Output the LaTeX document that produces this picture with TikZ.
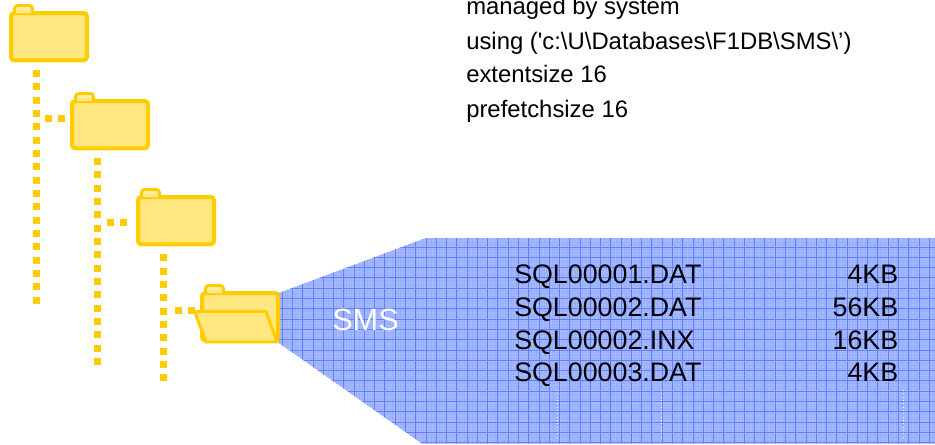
\documentclass[tikz,border=0pt]{standalone}
\usepackage{fontspec}
\setmainfont{Liberation Sans}
\definecolor{folderline}{HTML}{FFCC00}
\definecolor{folderfill}{HTML}{FFE680}
\definecolor{gridfill}{HTML}{A8BBFF}
\definecolor{gridline}{HTML}{5F80FF}
\definecolor{gridfine}{HTML}{9AAFFF}
\newcommand\DrawFolderTab[1]{%
	\draw[tab line,shift={(#1.north west)}] (5.5,2) -- (5.5,-5.5) -- (23.5,-5.5) -- (23.5,2);
	\draw[tab glint,shift={(#1.north west)}] (8,-2.5) -- (21,-2.5);
}
\newcommand\DrawFolder[2]{%
	\node[folder box] (#1) at (#2) {};
	\DrawFolderTab{#1}
}
\tikzset{%
	folder box/.style={draw=folderline,fill=folderfill,line width=3pt,rounded corners=2.5pt,
		minimum width=57pt,minimum height=35.5pt,anchor=north west,inner sep=0pt},
	tab line/.style={draw=folderline,fill=folderfill,line width=2.2pt,rounded corners=2.5pt},
	tab glint/.style={draw=folderfill!70!white,line width=1.6pt},
	folder flap/.style={draw=folderline,fill=folderfill,line width=2.2pt,line join=miter},
	tree dots/.style={draw=folderline,line width=5.25pt,dash pattern=on 5.25pt off 4.75pt},
	script line/.style={anchor=base west,font=\fontsize{17.9}{20}\selectfont,inner sep=0pt},
	file line/.style={anchor=base west,font=\fontsize{20.1}{24}\selectfont,inner sep=0pt},
	size line/.style={anchor=base east,font=\fontsize{20.1}{24}\selectfont,inner sep=0pt},
	grid wire/.style={draw=gridline,line width=0.75pt},
	grid fine/.style={draw=gridfine,line width=0.35pt},
	hole line/.style={draw=white,line width=0.5pt,dotted}
}
\begin{document}
\begin{tikzpicture}[x=0.75pt,y=-0.75pt]
	\useasboundingbox (0,0) rectangle (935,444);
	%% blue fan with its grid
	\coordinate (fanTip) at (279,293);
	\coordinate (fanTop) at (426,238);
	\coordinate (fanLow) at (422,443.5);
	\fill[gridfill] (fanTip) -- (fanTop) -- (935,238) -- (935,443.5) -- (fanLow) -- (279,343) -- cycle;
	\begin{scope}
		\clip (fanTip) -- (fanTop) -- (935,238) -- (935,443.5) -- (fanLow) -- (279,343) -- cycle;
		\foreach \t in {0,1,...,258} { \draw[grid fine] (272+\t*2.5675,230) -- (272+\t*2.5675,444); }
		\foreach \t in {0,1,...,82} { \draw[grid fine] (270,236.7+\t*2.575) -- (935,236.7+\t*2.575); }
		\foreach \t in {0,1,...,64} { \draw[grid wire] (272+\t*10.27,230) -- (272+\t*10.27,444); }
		\foreach \t in {0,1,...,20} { \draw[grid wire] (270,236.7+\t*10.3) -- (935,236.7+\t*10.3); }
	\end{scope}
	\draw[hole line] (557,390) -- (557,438);
	\draw[hole line] (661,390) -- (661,438);
	\draw[hole line] (903,390) -- (903,438);
	
	%% folders
	\DrawFolder{folderOne}{9,11}
	\DrawFolder{folderTwo}{70,99}
	\DrawFolder{folderThree}{136,195}
	\DrawFolder{folderFour}{200,291}
	\draw[folder flap,shift={(folderFour.north west)}] (-5.5,20.5) -- (66,20.5) -- (77,51) -- (6,51) -- cycle;
	
	%% dotted tree
	\coordinate (trunkOne) at (36.5,70);
	\coordinate (trunkOneEnd) at (36.5,303.7);
	\coordinate (trunkTwo) at (97.5,158);
	\coordinate (trunkTwoEnd) at (97.5,365);
	\coordinate (trunkThree) at (163.5,254.3);
	\coordinate (trunkThreeEnd) at (163.5,381.3);
	\coordinate (hookOne) at (45,118);
	\coordinate (hookTwo) at (107,222);
	\coordinate (hookThree) at (175,310);
	\draw[tree dots] (trunkOne) -- (trunkOneEnd);
	\draw[tree dots] (trunkTwo) -- (trunkTwoEnd);
	\draw[tree dots] (trunkThree) -- (trunkThreeEnd);
	\draw[tree dots,shorten >=3.2pt] (hookOne) -- (hookOne -| folderTwo.west);
	\draw[tree dots,shorten >=6.75pt] (hookTwo) -- (hookTwo -| folderThree.west);
	\draw[tree dots,shorten >=3.75pt] (hookThree) -- (hookThree -| folderFour.west);
	
	%% labelling
	\node[script line] (scriptOne) at (466,14.5) {managed by system};
	\node[script line] (scriptTwo) at (466,49) {using (\textquotesingle c:\textbackslash U\textbackslash Databases\textbackslash F1DB\textbackslash SMS\textbackslash ’)};
	\node[script line] (scriptThree) at (466,82.5) {extentsize 16};
	\node[script line] (scriptFour) at (466,117) {prefetchsize 16};
	\node[anchor=base west,inner sep=0pt,text=white,font=\fontsize{23}{27}\selectfont] (fanName) at (332,330) {SMS};
	\node[file line] (fileOne) at (514,283) {SQL00001.DAT};
	\node[file line] (fileTwo) at (514,316) {SQL00002.DAT};
	\node[file line] (fileThree) at (514,349) {SQL00002.INX};
	\node[file line] (fileFour) at (514,381) {SQL00003.DAT};
	\node[size line] (sizeOne) at (898.5,283) {4KB};
	\node[size line] (sizeTwo) at (898.5,316) {56KB};
	\node[size line] (sizeThree) at (898.5,349) {16KB};
	\node[size line] (sizeFour) at (898.5,381) {4KB};
\end{tikzpicture}
\end{document}
